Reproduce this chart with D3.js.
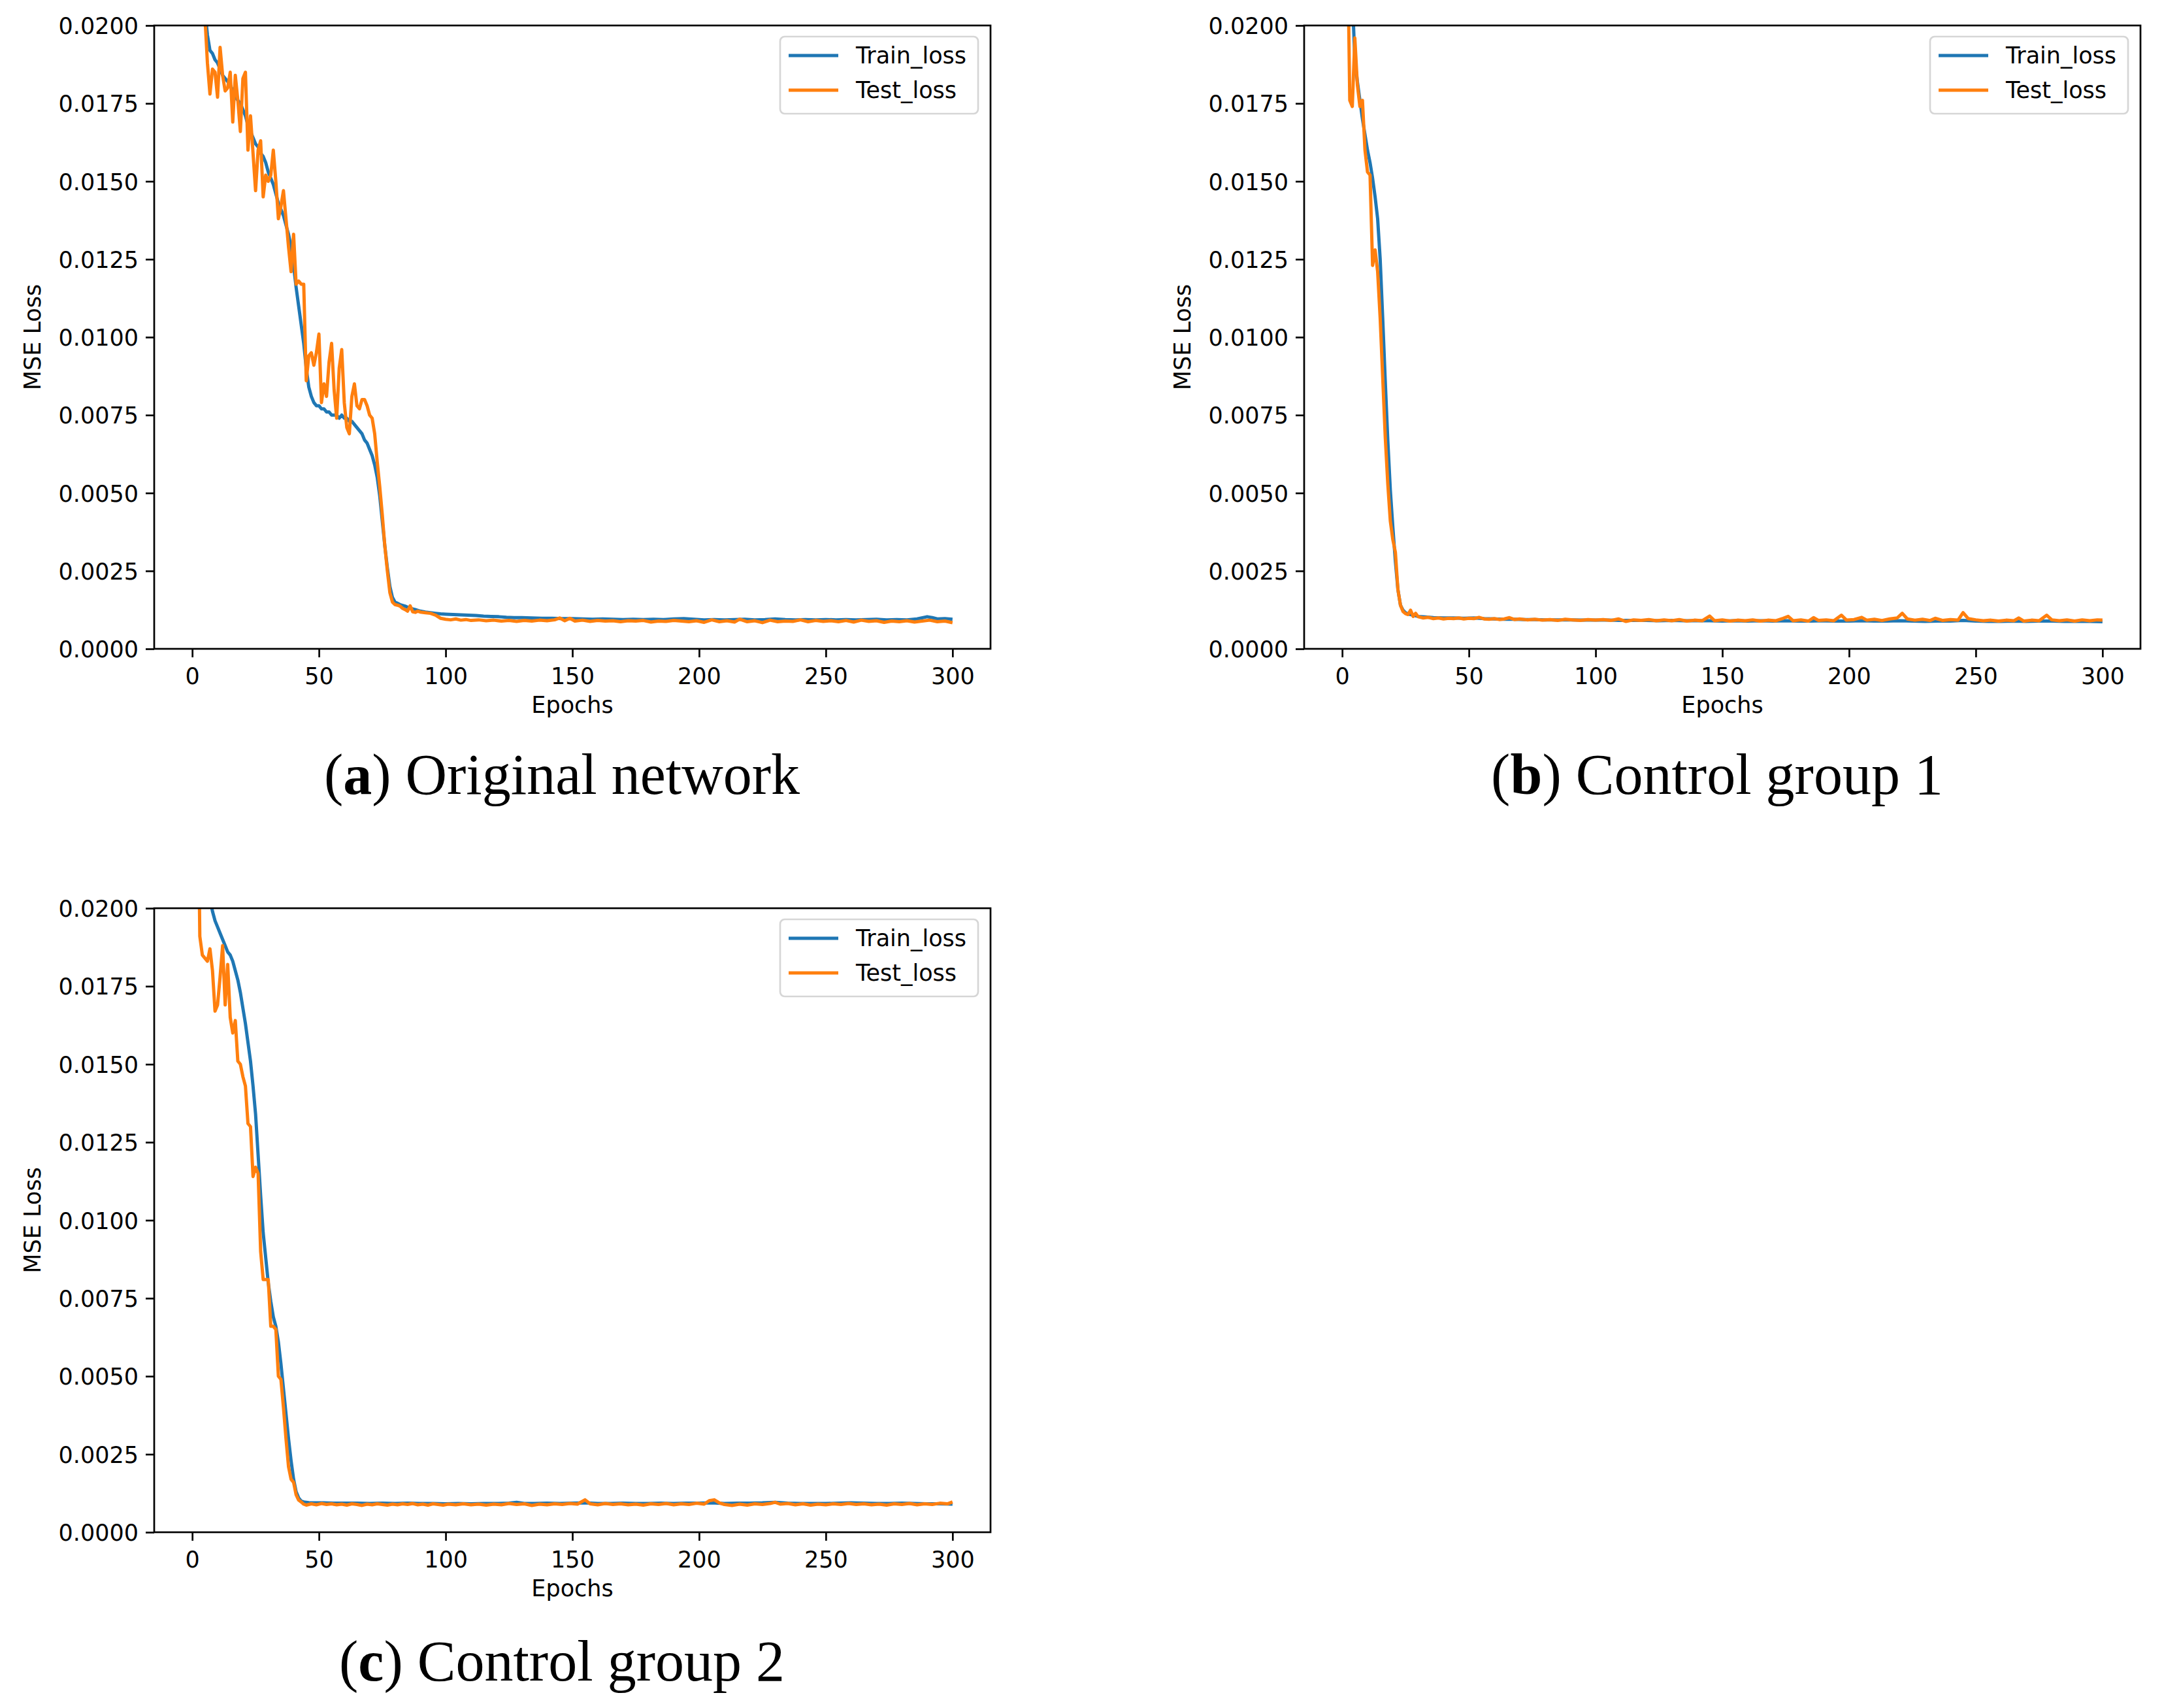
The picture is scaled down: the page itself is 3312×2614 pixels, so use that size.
<!DOCTYPE html>
<html>
<head>
<meta charset="utf-8">
<script src="https://cdn.jsdelivr.net/npm/d3@7"></script>
<style>
  body { margin: 0; background: #fff; }
</style>
</head>
<body>
<div id="fig"></div>
<script>
// ---- data: [epoch, MSE loss] ----
const xTicks = [0, 50, 100, 150, 200, 250, 300];
const yTicks = [0, 0.0025, 0.005, 0.0075, 0.01, 0.0125, 0.015, 0.0175, 0.02];
const seriesNames = ["Train_loss", "Test_loss"];
const captionLetters = ["a", "b", "c"];
const captionTexts = ["Original network", "Control group 1", "Control group 2"];

const trainA = [[1,.0300],[2,.0262],[3,.0235],[4,.0218],[5,.0205],[6,.0197],[7,.0192],[8,.0191],[9,.0189],[10,.0188],
  [11,.0186],[12,.0184],[13,.0183],[14,.0182],[15,.0181],[16,.0179],[17,.0177],[18,.0176],[19,.0175],[20,.0173],
  [21,.0171],[22,.0168],[23,.0166],[24,.0164],[25,.0162],[26,.0161],[27,.0159],[28,.0158],[29,.0156],[30,.0153],
  [31,.0151],[32,.0149],[33,.0146],[34,.0143],[35,.0141],[36,.0139],[37,.0136],[38,.0133],[39,.0129],[40,.0123],
  [41,.0116],[42,.0110],[43,.0104],[44,.0098],[45,.0090],[46,.0084],[47,.0081],[48,.0079],[49,.0078],[50,.0078],
  [51,.0077],[52,.0077],[53,.0076],[54,.0076],[55,.0075],[56,.0075],[57,.0075],[58,.0074],[59,.0075],[60,.0074],
  [61,.0074],[62,.0073],[63,.0073],[64,.0072],[65,.0071],[66,.0070],[67,.0069],[68,.0067],[69,.0066],[70,.0064],
  [71,.0062],[72,.0059],[73,.0055],[74,.0049],[75,.0041],[76,.0033],[77,.0026],[78,.0020],[79,.00165],[80,.00150],
  [81,.00146],[82,.00142],[84,.00137],[86,.00130],[88,.00126],[90,.00121],[92,.00118],[94,.00116],[96,.00114],[98,.00112],
  [100,.00111],[103,.00110],[106,.00109],[109,.00108],[112,.00107],[115,.00105],[118,.00104],[121,.00103],[124,.00101],[127,.00100],
  [130,.00100],[134,.00099],[138,.00098],[142,.00098],[146,.00097],[150,.00097],[154,.00096],[158,.00095],[162,.00096],[166,.00095],
  [170,.00094],[174,.00095],[178,.00094],[182,.00095],[186,.00094],[190,.00096],[194,.00097],[198,.00095],[202,.00093],[206,.00094],
  [210,.00093],[214,.00094],[218,.00095],[222,.00093],[226,.00094],[230,.00096],[234,.00094],[238,.00093],[242,.00094],[246,.00093],
  [250,.00094],[254,.00093],[258,.00094],[262,.00093],[266,.00094],[270,.00095],[274,.00093],[278,.00094],[282,.00093],[286,.00096],
  [290,.00103],[292,.00100],[294,.00096],[297,.00097],[300,.00095]];

const testA = [[1,.0320],[2,.0290],[3,.0255],[4,.0228],[5,.0203],[6,.0188],[7,.0178],[8,.0186],[9,.0185],[10,.0177],
  [11,.0193],[12,.0184],[13,.0179],[14,.0180],[15,.0185],[16,.0169],[17,.0184],[18,.0176],[19,.0166],[20,.0183],
  [21,.0185],[22,.0160],[23,.0171],[24,.0159],[25,.0147],[26,.0160],[27,.0163],[28,.0145],[29,.0152],[30,.0150],
  [31,.0152],[32,.0160],[33,.0150],[34,.0138],[35,.0142],[36,.0147],[37,.0138],[38,.0129],[39,.0121],[40,.0133],
  [41,.0117],[42,.0118],[43,.0117],[44,.0117],[45,.0086],[46,.0094],[47,.0095],[48,.0091],[49,.0095],[50,.0101],
  [51,.0079],[52,.0085],[53,.0081],[54,.0092],[55,.0098],[56,.0083],[57,.0074],[58,.0090],[59,.0096],[60,.0079],
  [61,.0071],[62,.0069],[63,.0081],[64,.0085],[65,.0078],[66,.0077],[67,.0080],[68,.0080],[69,.0078],[70,.0075],
  [71,.0074],[72,.0069],[73,.0060],[74,.0052],[75,.0043],[76,.0033],[77,.0025],[78,.0018],[79,.0015],[80,.00142],
  [81,.00140],[82,.00137],[83,.00130],[84,.00126],[85,.00121],[86,.00138],[87,.00119],[88,.00117],[89,.00121],[90,.00118],
  [92,.00116],[94,.00114],[96,.00108],[98,.00098],[100,.00095],[102,.00093],[104,.00096],[106,.00092],[108,.00094],[110,.00091],
  [113,.00093],[116,.00090],[119,.00092],[122,.00089],[125,.00091],[128,.00088],[131,.00091],[134,.00089],[137,.00092],[140,.00090],
  [143,.00093],[145,.00099],[147,.00090],[149,.00098],[151,.00089],[154,.00092],[157,.00088],[160,.00091],[163,.00089],[166,.00090],
  [169,.00087],[172,.00090],[175,.00089],[178,.00091],[181,.00086],[184,.00089],[187,.00088],[190,.00091],[193,.00089],[196,.00087],
  [199,.00090],[202,.00085],[205,.00093],[208,.00087],[211,.00090],[214,.00086],[216,.00095],[219,.00087],[222,.00090],[225,.00084],
  [228,.00092],[231,.00087],[234,.00089],[237,.00088],[240,.00093],[243,.00087],[246,.00091],[249,.00088],[252,.00090],[255,.00087],
  [258,.00091],[261,.00086],[264,.00092],[267,.00088],[270,.00090],[273,.00085],[276,.00089],[279,.00087],[282,.00090],[285,.00086],
  [288,.00089],[291,.00092],[294,.00087],[297,.00089],[300,.00084]];

const trainB = [[1,.0360],[2,.0290],[3,.0245],[4,.0210],[5,.0189],[6,.0182],[7,.0176],[8,.0170],[9,.0165],[10,.0160],
  [11,.0156],[12,.0151],[13,.0145],[14,.0138],[15,.0125],[16,.0106],[17,.0086],[18,.0067],[19,.0051],[20,.0039],
  [21,.0028],[22,.0019],[23,.0014],[24,.00124],[25,.00116],[26,.00112],[28,.00108],[30,.00104],[33,.00102],[36,.00100],
  [40,.00099],[44,.00099],[48,.00098],[52,.00099],[56,.00097],[60,.00096],[64,.00095],[68,.00095],[72,.00094],[76,.00094],
  [80,.00093],[85,.00093],[90,.00093],[95,.00092],[100,.00092],[105,.00092],[110,.00091],[115,.00091],[120,.00091],[125,.00090],
  [130,.00091],[135,.00090],[140,.00090],[145,.00090],[150,.00089],[155,.00090],[160,.00089],[165,.00090],[170,.00089],[175,.00090],
  [180,.00089],[185,.00089],[190,.00090],[195,.00089],[200,.00089],[205,.00090],[210,.00089],[215,.00089],[220,.00090],[225,.00089],
  [230,.00088],[235,.00089],[240,.00089],[245,.00091],[250,.00089],[255,.00088],[260,.00088],[265,.00089],[270,.00088],[275,.00089],
  [280,.00089],[285,.00088],[290,.00088],[295,.00088],[300,.00087]];

const testB = [[1,.0340],[2,.0235],[3,.0176],[4,.0174],[5,.0196],[6,.0181],[7,.0174],[8,.0176],[9,.0160],[10,.0153],
  [11,.0152],[12,.0123],[13,.0128],[14,.0121],[15,.0106],[16,.0087],[17,.0068],[18,.0053],[19,.0041],[20,.0035],
  [21,.0031],[22,.0019],[23,.0014],[24,.00120],[25,.00113],[26,.00110],[27,.00124],[28,.00104],[29,.00114],[30,.00103],
  [32,.00099],[34,.00101],[36,.00097],[38,.00099],[40,.00096],[42,.00098],[44,.00097],[46,.00099],[48,.00096],[50,.00098],
  [52,.00097],[54,.00101],[56,.00096],[58,.00095],[60,.00097],[62,.00094],[64,.00096],[66,.00100],[68,.00094],[70,.00096],
  [73,.00093],[76,.00095],[79,.00092],[82,.00094],[85,.00091],[88,.00095],[91,.00093],[94,.00091],[97,.00094],[100,.00092],
  [103,.00094],[106,.00091],[109,.00096],[112,.00088],[115,.00093],[118,.00091],[121,.00094],[124,.00090],[127,.00093],[130,.00090],
  [133,.00094],[136,.00089],[139,.00092],[142,.00090],[145,.00105],[147,.00090],[150,.00093],[153,.00089],[156,.00092],[159,.00090],
  [162,.00093],[165,.00089],[168,.00092],[171,.00090],[174,.00098],[176,.00104],[178,.00090],[181,.00093],[184,.00089],[186,.00100],
  [188,.00091],[191,.00093],[194,.00090],[197,.00108],[199,.00092],[202,.00094],[205,.00101],[207,.00092],[210,.00095],[213,.00091],
  [216,.00096],[219,.00099],[221,.00114],[223,.00096],[226,.00092],[229,.00095],[232,.00091],[234,.00098],[237,.00091],[240,.00094],
  [243,.00092],[245,.00116],[247,.00097],[250,.00093],[253,.00090],[256,.00092],[259,.00089],[262,.00092],[265,.00090],[267,.00099],
  [269,.00089],[272,.00092],[275,.00090],[278,.00108],[280,.00093],[283,.00090],[286,.00093],[289,.00089],[292,.00093],[295,.00090],
  [298,.00093],[300,.00092]];

const trainC = [[1,.0320],[2,.0290],[3,.0270],[4,.0250],[5,.0235],[6,.0218],[7,.0203],[8,.0199],[9,.0196],[10,.0194],
  [11,.0192],[12,.0190],[13,.0188],[14,.0186],[15,.0185],[16,.0183],[17,.0180],[18,.0177],[19,.0173],[20,.0168],
  [21,.0163],[22,.0157],[23,.0151],[24,.0143],[25,.0134],[26,.0121],[27,.0108],[28,.0096],[29,.0088],[30,.0080],
  [31,.0074],[32,.0069],[33,.0066],[34,.0061],[35,.0054],[36,.0046],[37,.0038],[38,.0030],[39,.0023],[40,.0017],
  [41,.0013],[42,.00110],[43,.00100],[44,.00097],[46,.00095],[48,.00094],[52,.00094],[56,.00093],[60,.00093],[65,.00093],
  [70,.00092],[75,.00093],[80,.00092],[85,.00093],[90,.00092],[95,.00092],[100,.00091],[105,.00092],[110,.00091],[115,.00092],
  [120,.00092],[125,.00093],[128,.00096],[131,.00092],[135,.00092],[140,.00093],[145,.00092],[150,.00093],[155,.00094],[160,.00092],
  [165,.00092],[170,.00093],[175,.00092],[180,.00092],[185,.00093],[190,.00092],[195,.00093],[200,.00093],[205,.00094],[210,.00092],
  [215,.00093],[220,.00093],[225,.00094],[230,.00096],[235,.00093],[240,.00092],[245,.00092],[250,.00092],[255,.00093],[260,.00094],
  [265,.00093],[270,.00092],[275,.00092],[280,.00093],[285,.00092],[290,.00091],[295,.00091],[300,.00090]];

const testC = [[1,.0340],[2,.0260],[3,.0191],[4,.0185],[5,.0184],[6,.0183],[7,.0187],[8,.0180],[9,.0167],[10,.0169],
  [11,.0178],[12,.0188],[13,.0169],[14,.0182],[15,.0165],[16,.0160],[17,.0164],[18,.0151],[19,.0150],[20,.0146],
  [21,.0143],[22,.0131],[23,.0130],[24,.0114],[25,.0117],[26,.0115],[27,.0090],[28,.0081],[29,.0081],[30,.0081],
  [31,.0066],[32,.0066],[33,.0065],[34,.0050],[35,.0049],[36,.0040],[37,.0030],[38,.0021],[39,.0017],[40,.0016],
  [41,.0012],[42,.00103],[43,.00097],[44,.00090],[45,.00087],[47,.00091],[49,.00088],[51,.00092],[53,.00089],[55,.00091],
  [57,.00088],[59,.00090],[61,.00087],[63,.00091],[65,.00089],[67,.00086],[69,.00090],[71,.00088],[73,.00091],[75,.00089],
  [77,.00087],[79,.00090],[81,.00088],[83,.00091],[85,.00089],[87,.00092],[89,.00088],[91,.00090],[93,.00087],[95,.00091],
  [97,.00089],[99,.00087],[101,.00090],[104,.00088],[107,.00091],[110,.00088],[113,.00090],[116,.00087],[119,.00090],[122,.00088],
  [125,.00092],[128,.00089],[131,.00091],[134,.00086],[137,.00090],[140,.00088],[143,.00091],[146,.00089],[149,.00092],[152,.00090],
  [155,.00104],[157,.00091],[160,.00088],[163,.00092],[166,.00089],[169,.00091],[172,.00088],[175,.00090],[178,.00087],[181,.00091],
  [184,.00089],[187,.00092],[190,.00088],[193,.00091],[196,.00089],[199,.00093],[202,.00090],[204,.00101],[206,.00104],[208,.00094],
  [210,.00089],[213,.00086],[216,.00090],[219,.00087],[222,.00091],[225,.00089],[228,.00092],[230,.00096],[232,.00090],[235,.00092],
  [238,.00088],[241,.00091],[244,.00087],[247,.00090],[250,.00088],[253,.00091],[256,.00089],[259,.00092],[262,.00089],[265,.00091],
  [268,.00088],[271,.00090],[274,.00087],[277,.00091],[280,.00089],[283,.00092],[286,.00088],[289,.00091],[292,.00089],[295,.00093],
  [298,.00091],[300,.00097]];

// ---- layout (pixels) ----
let W = 3312;
let H = 2614;
let colors = ["#1f77b4", "#ff7f0e"];
let fontSans = "DejaVu Sans, sans-serif";
let fontSerif = "'Palatino Linotype', Palatino, 'Book Antiqua', 'Liberation Serif', serif";
let fontSize = "35px";

let panels = [
  {train: trainA, test: testA, left: 236,  right: 1516, top: 39,   bottom: 993,  capX: 860,  capY: 1215},
  {train: trainB, test: testB, left: 1996, right: 3276, top: 39,   bottom: 993,  capX: 2628, capY: 1215},
  {train: trainC, test: testC, left: 236,  right: 1516, top: 1390, bottom: 2345, capX: 860,  capY: 2572}
];

let svg = d3.select("#fig")
  .append("svg")
    .attr("width", W)
    .attr("height", H)
    .attr("viewBox", "0 0 " + W + " " + H)
    .style("background", "#fff");

panels.forEach(function(p, i) {
  let x = d3.scaleLinear().domain([-15, 315]).range([p.left, p.right]);
  let y = d3.scaleLinear().domain([0, 0.02]).range([p.bottom, p.top]);

  let g = svg.append("g").attr("class", "panel-" + captionLetters[i]);

  // clip the curves to the axes box like matplotlib does
  let clipId = "clip-" + i;
  svg.append("clipPath").attr("id", clipId)
    .append("rect")
      .attr("x", p.left).attr("y", p.top)
      .attr("width", p.right - p.left).attr("height", p.bottom - p.top);

  let line = d3.line()
    .x(d => x(d[0]))
    .y(d => y(d[1]));

  g.append("g").attr("clip-path", "url(#" + clipId + ")")
    .selectAll("path")
    .data([p.train, p.test])
    .join("path")
      .attr("d", line)
      .attr("fill", "none")
      .attr("stroke", (d, k) => colors[k])
      .attr("stroke-width", 5)
      .attr("stroke-linejoin", "round");

  // axes
  let xAxis = d3.axisBottom(x).tickValues(xTicks).tickSize(13).tickPadding(9).tickFormat(d3.format("d"));
  let yAxis = d3.axisLeft(y).tickValues(yTicks).tickSize(13).tickPadding(11).tickFormat(d3.format(".4f"));

  let gx = g.append("g").attr("transform", "translate(0," + p.bottom + ")").call(xAxis);
  let gy = g.append("g").attr("transform", "translate(" + p.left + ",0)").call(yAxis);
  [gx, gy].forEach(a => {
    a.select(".domain").remove();
    a.selectAll(".tick line").attr("stroke", "#000").attr("stroke-width", 2.7);
    a.selectAll(".tick text")
      .attr("fill", "#000")
      .style("font-family", fontSans)
      .style("font-size", fontSize);
  });
  gx.selectAll(".tick text").attr("dy", "0.92em");
  gy.selectAll(".tick text").attr("dy", "0.36em");

  // spines
  g.append("rect")
    .attr("x", p.left).attr("y", p.top)
    .attr("width", p.right - p.left).attr("height", p.bottom - p.top)
    .attr("fill", "none")
    .attr("stroke", "#000")
    .attr("stroke-width", 2.7);

  // axis labels
  g.append("text")
    .text("Epochs")
    .attr("x", (p.left + p.right) / 2)
    .attr("y", p.bottom + 98)
    .attr("text-anchor", "middle")
    .style("font-family", fontSans)
    .style("font-size", fontSize);

  g.append("text")
    .text("MSE Loss")
    .attr("transform", "translate(" + (p.left - 174) + "," + ((p.top + p.bottom) / 2) + ") rotate(-90)")
    .attr("text-anchor", "middle")
    .style("font-family", fontSans)
    .style("font-size", fontSize);

  // legend
  let lx = p.right - 19 - 303;
  let ly = p.top + 17;
  let legend = g.append("g").attr("transform", "translate(" + lx + "," + ly + ")");
  legend.append("rect")
    .attr("width", 303).attr("height", 118)
    .attr("rx", 7).attr("ry", 7)
    .attr("fill", "#fff").attr("fill-opacity", 0.8)
    .attr("stroke", "#d6d6d6").attr("stroke-width", 2.7);
  let items = legend.selectAll("g.item")
    .data(seriesNames)
    .join("g")
      .attr("class", "item")
      .attr("transform", (d, k) => "translate(0," + (29 + k * 53) + ")");
  items.append("line")
    .attr("x1", 13).attr("x2", 89)
    .attr("stroke", (d, k) => colors[k])
    .attr("stroke-width", 5);
  items.append("text")
    .text(d => d)
    .attr("x", 116).attr("y", 12)
    .style("font-family", fontSans)
    .style("font-size", fontSize);

  // caption under the panel
  let cap = svg.append("text")
    .attr("x", p.capX)
    .attr("y", p.capY)
    .attr("text-anchor", "middle")
    .style("font-family", fontSerif)
    .style("font-size", "88px");
  cap.append("tspan").text("(");
  cap.append("tspan").text(captionLetters[i]).attr("font-weight", "bold");
  cap.append("tspan").text(") " + captionTexts[i]);
});
</script>
</body>
</html>
